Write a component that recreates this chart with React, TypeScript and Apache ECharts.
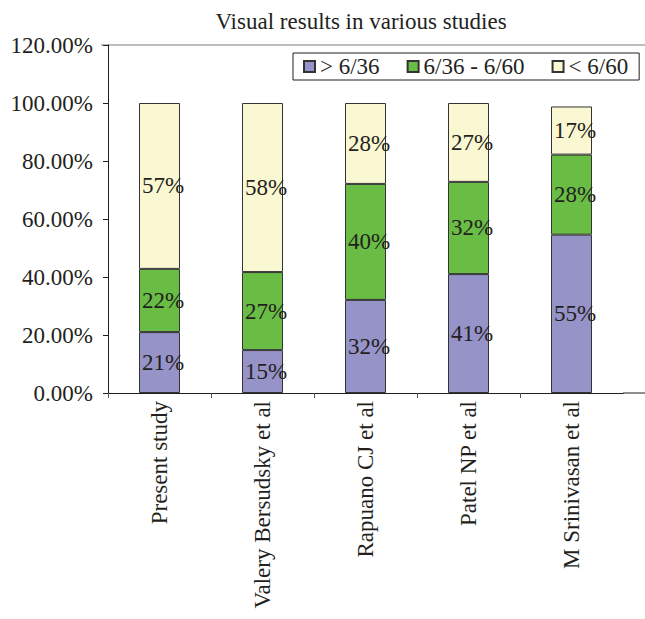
import React, { useEffect, useRef } from "react";
import * as echarts from "echarts";

const categories = [
  "Present study",
  "Valery Bersudsky et al",
  "Rapuano CJ et al",
  "Patel NP et al",
  "M Srinivasan et al",
];
const seriesNames = ["> 6/36", "6/36 - 6/60", "< 6/60"];
const above636 = [21.0, 14.8, 32.1, 41.0, 54.6];
const between = [21.8, 26.9, 40.0, 31.8, 27.6];
const below660 = [57.2, 58.3, 27.9, 27.2, 16.6];
const colors = ["#9593C8", "#69BD45", "#FAF8D2"];

const FONT = "'Liberation Serif', 'Times New Roman', serif";
const TXT = "#231f20";

export default function App() {
  const ref = useRef<HTMLDivElement>(null);
  useEffect(() => {
    if (!ref.current) return;
    const chart = echarts.init(ref.current, null, { renderer: "svg" });
    const data = [above636, between, below660];
    chart.setOption({
      animation: false,
      backgroundColor: "#ffffff",
      textStyle: { fontFamily: FONT, color: TXT },
      title: {
        text: "Visual results in various studies",
        left: 356,
        top: 5,
        textAlign: "center",
        textStyle: { fontFamily: FONT, fontSize: 23, fontWeight: "normal", color: TXT },
      },
      legend: {
        left: 293,
        top: 53,
        orient: "horizontal",
        borderColor: "#231f20",
        borderWidth: 1,
        padding: [2, 11, 2, 10],
        itemGap: 27,
        itemWidth: 11,
        itemHeight: 11,
        icon: "rect",
        textStyle: { fontFamily: FONT, fontSize: 23, color: TXT },
        data: seriesNames,
      },
      grid: { left: 108, right: 22, top: 45, bottom: 226, containLabel: false },
      xAxis: {
        type: "category",
        data: categories,
        axisLine: { lineStyle: { color: "#231f20", width: 1 } },
        axisTick: { show: true, alignWithLabel: false, length: 5, inside: false, lineStyle: { color: "#555" } },
        axisLabel: {
          interval: 0,
          rotate: 90,
          margin: 8,
          fontFamily: FONT,
          fontSize: 23,
          color: TXT,
        },
      },
      yAxis: {
        type: "value",
        min: 0,
        max: 120,
        interval: 20,
        axisLine: { show: true, lineStyle: { color: "#231f20", width: 1 } },
        axisTick: { show: true, length: 5, lineStyle: { color: "#231f20" } },
        splitLine: { show: false },
        axisLabel: {
          margin: 15,
          fontFamily: FONT,
          fontSize: 23,
          color: TXT,
          formatter: (v: number) => v.toFixed(2) + "%",
        },
      },
      graphic: [
        {
          type: "line",
          shape: { x1: 101, y1: 45, x2: 645, y2: 45 },
          style: { stroke: "#a8a8a8", lineWidth: 1.5 },
          silent: true,
        },
        {
          type: "line",
          shape: { x1: 623, y1: 393, x2: 645, y2: 393 },
          style: { stroke: "#231f20", lineWidth: 1 },
          silent: true,
        },
        {
          type: "rect",
          shape: { x: 620, y: 394, width: 6, height: 6 },
          style: { fill: "#ffffff" },
          silent: true,
          z: 100,
        },
      ],
      series: seriesNames.map((name, i) => ({
        name,
        type: "bar",
        stack: "total",
        barWidth: 41,
        data: data[i],
        itemStyle: { color: colors[i], borderColor: "#333333", borderWidth: 1 },
        label: {
          show: true,
          position: "insideLeft",
          distance: 3,
          fontFamily: FONT,
          fontSize: 23,
          color: TXT,
          formatter: (p: any) => Math.round(p.value) + "%",
        },
      })),
    });
    return () => chart.dispose();
  }, []);
  return (
    <div
      ref={ref}
      style={{ position: "absolute", left: 0, top: 0, width: 645, height: 619 }}
    />
  );
}
